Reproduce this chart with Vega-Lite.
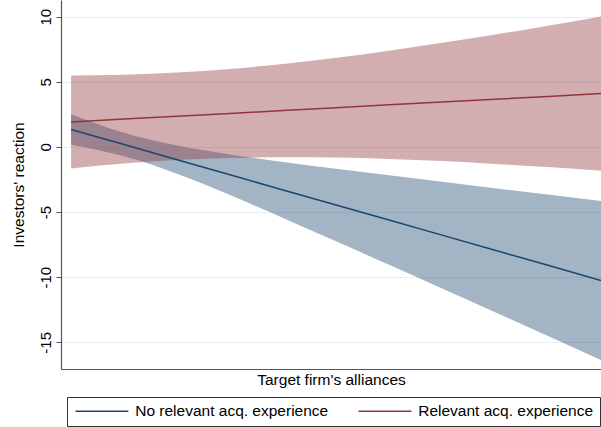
{
  "$schema": "https://vega.github.io/schema/vega-lite/v6.json",
  "width": 540,
  "height": 369,
  "autosize": "none",
  "padding": {"left": 61, "top": 0, "right": 0, "bottom": 58},
  "background": "white",
  "config": {"view": {"stroke": null}, "font": "Liberation Sans"},
  "data": {
    "values": [
      {"x": 0, "series": "No relevant acq. experience", "fit": 1.34, "lo": 0.17, "hi": 2.51},
      {"x": 1, "series": "No relevant acq. experience", "fit": 0.18, "lo": -0.72, "hi": 1.08},
      {"x": 2, "series": "No relevant acq. experience", "fit": -0.98, "lo": -2.06, "hi": 0.1},
      {"x": 3, "series": "No relevant acq. experience", "fit": -2.14, "lo": -3.7, "hi": -0.58},
      {"x": 4, "series": "No relevant acq. experience", "fit": -3.3, "lo": -5.45, "hi": -1.15},
      {"x": 5, "series": "No relevant acq. experience", "fit": -4.46, "lo": -7.25, "hi": -1.67},
      {"x": 6, "series": "No relevant acq. experience", "fit": -5.61, "lo": -9.05, "hi": -2.17},
      {"x": 7, "series": "No relevant acq. experience", "fit": -6.77, "lo": -10.87, "hi": -2.67},
      {"x": 8, "series": "No relevant acq. experience", "fit": -7.93, "lo": -12.69, "hi": -3.17},
      {"x": 9, "series": "No relevant acq. experience", "fit": -9.09, "lo": -14.52, "hi": -3.66},
      {"x": 10, "series": "No relevant acq. experience", "fit": -10.25, "lo": -16.35, "hi": -4.15},
      {"x": 0, "series": "Relevant acq. experience", "fit": 1.92, "lo": -1.65, "hi": 5.49},
      {"x": 1, "series": "Relevant acq. experience", "fit": 2.14, "lo": -1.27, "hi": 5.55},
      {"x": 2, "series": "Relevant acq. experience", "fit": 2.36, "lo": -1.0, "hi": 5.72},
      {"x": 3, "series": "Relevant acq. experience", "fit": 2.57, "lo": -0.85, "hi": 5.99},
      {"x": 4, "series": "Relevant acq. experience", "fit": 2.79, "lo": -0.79, "hi": 6.37},
      {"x": 5, "series": "Relevant acq. experience", "fit": 3.01, "lo": -0.82, "hi": 6.84},
      {"x": 6, "series": "Relevant acq. experience", "fit": 3.23, "lo": -0.93, "hi": 7.39},
      {"x": 7, "series": "Relevant acq. experience", "fit": 3.45, "lo": -1.09, "hi": 7.99},
      {"x": 8, "series": "Relevant acq. experience", "fit": 3.66, "lo": -1.31, "hi": 8.63},
      {"x": 9, "series": "Relevant acq. experience", "fit": 3.88, "lo": -1.55, "hi": 9.31},
      {"x": 10, "series": "Relevant acq. experience", "fit": 4.1, "lo": -1.82, "hi": 10.02}
    ]
  },
  "encoding": {
    "x": {
      "field": "x",
      "type": "quantitative",
      "scale": {"domain": [-0.19, 10], "nice": false, "zero": false},
      "axis": {
        "title": "Target firm's alliances",
        "labels": false,
        "ticks": false,
        "grid": false,
        "domainColor": "#555555",
        "domainWidth": 1.2,
        "titleFont": "Liberation Sans",
        "titleFontSize": 15.5,
        "titleFontWeight": "normal",
        "titleColor": "#000000",
        "titlePadding": 3
      }
    }
  },
  "layer": [
    {
      "mark": {"type": "area", "opacity": 0.4, "interpolate": "monotone"},
      "encoding": {
        "y": {
          "field": "lo",
          "type": "quantitative",
          "scale": {"domain": [-17.05, 11.28], "nice": false, "zero": false},
          "axis": {
            "title": "Investors' reaction",
            "values": [-15, -10, -5, 0, 5, 10],
            "labelExpr": "'' + datum.value",
            "labelAngle": 270,
            "labelFont": "Liberation Sans",
            "labelFontSize": 15,
            "labelColor": "#000000",
            "labelPadding": 3,
            "tickSize": 5,
            "tickColor": "#555555",
            "domainColor": "#555555",
            "domainWidth": 1.2,
            "grid": true,
            "gridColor": "#e6eef0",
            "gridWidth": 1,
            "titleFont": "Liberation Sans",
            "titleFontSize": 15.5,
            "titleFontWeight": "normal",
            "titleColor": "#000000",
            "titlePadding": 12
          }
        },
        "y2": {"field": "hi"},
        "fill": {
          "field": "series",
          "type": "nominal",
          "scale": {"range": ["#1a476f", "#90353b"]},
          "legend": null
        }
      }
    },
    {
      "mark": {"type": "line", "strokeWidth": 1.5},
      "encoding": {
        "y": {
          "field": "fit",
          "type": "quantitative",
          "axis": {
            "title": "Investors' reaction",
            "values": [-15, -10, -5, 0, 5, 10],
            "labelExpr": "'' + datum.value",
            "labelAngle": 270,
            "labelFont": "Liberation Sans",
            "labelFontSize": 15,
            "labelColor": "#000000",
            "labelPadding": 3,
            "tickSize": 5,
            "tickColor": "#555555",
            "domainColor": "#555555",
            "domainWidth": 1.2,
            "grid": true,
            "gridColor": "#e6eef0",
            "gridWidth": 1,
            "titleFont": "Liberation Sans",
            "titleFontSize": 15.5,
            "titleFontWeight": "normal",
            "titleColor": "#000000",
            "titlePadding": 12
          }
        },
        "stroke": {
          "field": "series",
          "type": "nominal",
          "scale": {"domain": ["No relevant acq. experience", "Relevant acq. experience"], "range": ["#1a476f", "#90353b"]},
          "legend": {
            "orient": "none",
            "legendX": 6,
            "legendY": 397,
            "direction": "horizontal",
            "title": null,
            "symbolType": "M0,0H10",
            "symbolSize": 112,
            "symbolOffset": -5.3,
            "symbolStrokeWidth": 1.5,
            "labelFont": "Liberation Sans",
            "labelFontSize": 15.5,
            "labelColor": "#000000",
            "labelOffset": 52,
            "labelLimit": 0,
            "columnPadding": 26,
            "padding": 6,
            "strokeColor": "#333333",
            "fillColor": "#ffffff"
          }
        }
      }
    }
  ]
}
